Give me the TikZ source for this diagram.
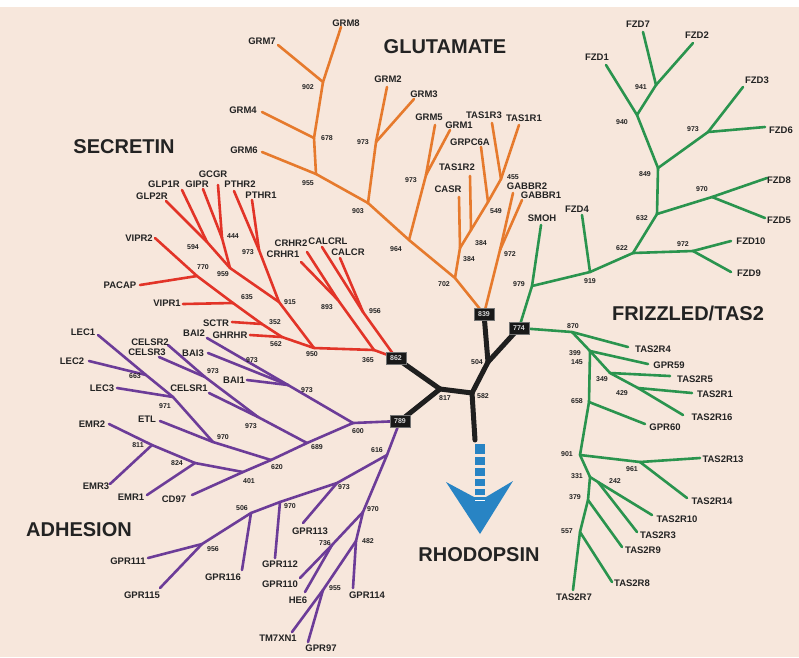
\documentclass[tikz,border=0pt]{standalone}
\usepackage{fontspec}
\setmainfont{Liberation Sans}
\definecolor{bgc}{RGB}{247,231,220}
\definecolor{gluc}{RGB}{230,122,45}
\definecolor{fzdc}{RGB}{42,148,78}
\definecolor{secc}{RGB}{226,52,40}
\definecolor{adhc}{RGB}{108,60,152}
\definecolor{rhoc}{RGB}{40,132,196}
\definecolor{txtc}{RGB}{35,35,35}
\begin{document}
\begin{tikzpicture}[x=1pt,y=-1pt,
  br/.style={line width=2.6pt, line cap=round, line join=round},
  gluline/.style={br, draw=gluc},
  fzdline/.style={br, draw=fzdc},
  secline/.style={br, draw=secc},
  adhline/.style={br, draw=adhc},
  blkline/.style={line width=5pt, draw=black!88, line cap=round, line join=round},
  gene/.style={font=\fontsize{9.5}{10}\selectfont\bfseries, text=txtc, inner sep=0pt},
  num/.style={font=\fontsize{7}{8}\selectfont\bfseries, text=txtc, inner sep=0pt},
  fam/.style={font=\fontsize{20}{22}\selectfont\bfseries, text=txtc, inner sep=0pt},
  bbox/.style={fill=black!90, draw=black!55, line width=0.8pt, minimum width=20pt, minimum height=12pt, inner sep=0pt, text=white!85!black, font=\fontsize{7}{8}\selectfont\bfseries}]
\useasboundingbox (0,0) rectangle (799,657);
\fill[bgc] (0,7) rectangle (799,657);
\fill[white] (0,0) rectangle (799,7);

% ---------------- coordinates: glutamate
\coordinate (lGRM8) at (341,27);
\coordinate (lGRM7) at (278,45);
\coordinate (lGRM4) at (262,112);
\coordinate (lGRM6) at (262,152);
\coordinate (lGRM2) at (387,87);
\coordinate (lGRM3) at (414,99);
\coordinate (lGRM5) at (435,125);
\coordinate (lGRM1) at (450,130);
\coordinate (lTAS1R3) at (492,123);
\coordinate (lTAS1R1) at (519,125);
\coordinate (lGRPC6A) at (481,147);
\coordinate (lTAS1R2) at (470,176);
\coordinate (lCASR) at (459,197);
\coordinate (lGABBR2) at (513,193);
\coordinate (lGABBR1) at (522,200);
\coordinate (g902) at (323,82);
\coordinate (g678) at (314,138);
\coordinate (g955) at (316,174);
\coordinate (g903) at (368,203);
\coordinate (g973a) at (376,142);
\coordinate (g964) at (409,240);
\coordinate (g973b) at (426,175);
\coordinate (g702) at (455,278);
\coordinate (g384a) at (460,248);
\coordinate (g384b) at (471,230);
\coordinate (g549) at (488,202);
\coordinate (g455) at (501,179);
\coordinate (g972) at (500,250);
\coordinate (b839) at (484,314);

% ---------------- coordinates: frizzled
\coordinate (lFZD7) at (643,32);
\coordinate (lFZD2) at (693,43);
\coordinate (lFZD1) at (606,65);
\coordinate (lFZD3) at (743,87);
\coordinate (lFZD6) at (765,127);
\coordinate (lFZD8) at (767,178);
\coordinate (lFZD5) at (765,218);
\coordinate (lFZD10) at (731,241);
\coordinate (lFZD9) at (731,272);
\coordinate (lFZD4) at (582,215);
\coordinate (lSMOH) at (541,225);
\coordinate (f941) at (656,85);
\coordinate (f940) at (637,115);
\coordinate (f849) at (658,168);
\coordinate (f973) at (708,132);
\coordinate (f632) at (657,214);
\coordinate (f970) at (712,197);
\coordinate (f622) at (633,253);
\coordinate (f972) at (693,251);
\coordinate (f919) at (590,272);
\coordinate (f979) at (532,286);
\coordinate (b774) at (519,328);

% ---------------- coordinates: TAS2
\coordinate (t870) at (572,332);
\coordinate (t399) at (590,351);
\coordinate (t349) at (610,373);
\coordinate (t429) at (638,388);
\coordinate (t658) at (589,402);
\coordinate (t901) at (580,455);
\coordinate (t961) at (640,462);
\coordinate (t331) at (590,477);
\coordinate (t242) at (598,482);
\coordinate (t379) at (588,500);
\coordinate (t557) at (580,532);
\coordinate (lTAS2R4) at (628,347);
\coordinate (lGPR59) at (648,364);
\coordinate (lTAS2R5) at (670,376);
\coordinate (lTAS2R1) at (692,393);
\coordinate (lTAS2R16) at (683,415);
\coordinate (lGPR60) at (645,424);
\coordinate (lTAS2R13) at (700,458);
\coordinate (lTAS2R14) at (687,498);
\coordinate (lTAS2R10) at (652,515);
\coordinate (lTAS2R3) at (637,532);
\coordinate (lTAS2R9) at (622,547);
\coordinate (lTAS2R8) at (612,582);
\coordinate (lTAS2R7) at (573,590);

% ---------------- coordinates: secretin
\coordinate (lGLP2R) at (166,201);
\coordinate (lGLP1R) at (182,190);
\coordinate (lGIPR) at (203,189);
\coordinate (lGCGR) at (218,185);
\coordinate (lPTHR2) at (234,191);
\coordinate (lPTHR1) at (252,200);
\coordinate (lVIPR2) at (155,238);
\coordinate (lPACAP) at (140,285);
\coordinate (lVIPR1) at (183,304);
\coordinate (lSCTR) at (232,322);
\coordinate (lGHRHR) at (250,335);
\coordinate (lCRHR2) at (307,252);
\coordinate (lCRHR1) at (301,262);
\coordinate (lCALCRL) at (322,247);
\coordinate (lCALCR) at (340,258);
\coordinate (s594) at (207,242);
\coordinate (s444) at (222,238);
\coordinate (s959) at (230,268);
\coordinate (s973) at (259,250);
\coordinate (s915) at (279,302);
\coordinate (s770) at (197,276);
\coordinate (s635) at (233,303);
\coordinate (s352) at (262,324);
\coordinate (s562) at (282,337);
\coordinate (s950) at (314,348);
\coordinate (s365) at (374,350);
\coordinate (s893) at (338,300);
\coordinate (s956) at (363,312);
\coordinate (b862) at (396,358);

% ---------------- coordinates: adhesion
\coordinate (lLEC1) at (98,335);
\coordinate (lLEC2) at (89,361);
\coordinate (lLEC3) at (117,388);
\coordinate (lEMR2) at (109,424);
\coordinate (lETL) at (160,421);
\coordinate (lCELSR2) at (168,345);
\coordinate (lCELSR3) at (159,357);
\coordinate (lCELSR1) at (209,393);
\coordinate (lBAI2) at (207,338);
\coordinate (lBAI3) at (208,353);
\coordinate (lBAI1) at (247,380);
\coordinate (lEMR3) at (110,484);
\coordinate (lEMR1) at (147,495);
\coordinate (lCD97) at (192,495);
\coordinate (lGPR113) at (303,523);
\coordinate (lGPR111) at (148,558);
\coordinate (lGPR116) at (242,570);
\coordinate (lGPR112) at (275,558);
\coordinate (lGPR110) at (300,578);
\coordinate (lHE6) at (305,592);
\coordinate (lGPR114) at (353,588);
\coordinate (lGPR115) at (160,588);
\coordinate (lTM7XN1) at (292,632);
\coordinate (lGPR97) at (308,642);
\coordinate (a663) at (146,375);
\coordinate (a971) at (173,397);
\coordinate (a970) at (213,442);
\coordinate (a620) at (271,460);
\coordinate (ac23) at (205,377);
\coordinate (ac1) at (258,417);
\coordinate (a689) at (307,443);
\coordinate (ab31) at (288,385);
\coordinate (a600) at (353,423);
\coordinate (a811) at (152,445);
\coordinate (a824) at (195,463);
\coordinate (a401) at (243,472);
\coordinate (a616) at (387,455);
\coordinate (a973) at (337,483);
\coordinate (a970b) at (280,502);
\coordinate (a506) at (251,513);
\coordinate (a956) at (202,544);
\coordinate (a970c) at (363,512);
\coordinate (a736) at (332,545);
\coordinate (a482) at (356,541);
\coordinate (a955) at (323,590);
\coordinate (b789) at (400,421);

% ---------------- core
\coordinate (k817) at (440,389);
\coordinate (k582) at (472,393);
\coordinate (k504) at (488,362);
\coordinate (kstem) at (475,440);

% ================= branches
% glutamate
\draw[gluline] (lGRM8) -- (g902);
\draw[gluline] (lGRM7) -- (g902);
\draw[gluline] (g902) -- (g678);
\draw[gluline] (lGRM4) -- (g678);
\draw[gluline] (g678) -- (g955);
\draw[gluline] (lGRM6) -- (g955);
\draw[gluline] (g955) -- (g903);
\draw[gluline] (lGRM2) -- (g973a);
\draw[gluline] (lGRM3) -- (g973a);
\draw[gluline] (g973a) -- (g903);
\draw[gluline] (g903) -- (g964);
\draw[gluline] (lGRM5) -- (g973b);
\draw[gluline] (lGRM1) -- (g973b);
\draw[gluline] (g973b) -- (g964);
\draw[gluline] (g964) -- (g702);
\draw[gluline] (g702) -- (b839);
\draw[gluline] (lCASR) -- (g384a);
\draw[gluline] (g384a) -- (g702);
\draw[gluline] (lTAS1R2) -- (g384b);
\draw[gluline] (g384b) -- (g384a);
\draw[gluline] (g549) -- (g384b);
\draw[gluline] (lGRPC6A) -- (g549);
\draw[gluline] (g455) -- (g549);
\draw[gluline] (lTAS1R3) -- (g455);
\draw[gluline] (lTAS1R1) -- (g455);
\draw[gluline] (lGABBR2) -- (g972);
\draw[gluline] (lGABBR1) -- (g972);
\draw[gluline] (g972) -- (b839);

% frizzled
\draw[fzdline] (lFZD7) -- (f941);
\draw[fzdline] (lFZD2) -- (f941);
\draw[fzdline] (f941) -- (f940);
\draw[fzdline] (lFZD1) -- (f940);
\draw[fzdline] (f940) -- (f849);
\draw[fzdline] (lFZD3) -- (f973);
\draw[fzdline] (lFZD6) -- (f973);
\draw[fzdline] (f973) -- (f849);
\draw[fzdline] (f849) -- (f632);
\draw[fzdline] (lFZD8) -- (f970);
\draw[fzdline] (lFZD5) -- (f970);
\draw[fzdline] (f970) -- (f632);
\draw[fzdline] (f632) -- (f622);
\draw[fzdline] (lFZD10) -- (f972);
\draw[fzdline] (lFZD9) -- (f972);
\draw[fzdline] (f972) -- (f622);
\draw[fzdline] (f622) -- (f919);
\draw[fzdline] (lFZD4) -- (f919);
\draw[fzdline] (f919) -- (f979);
\draw[fzdline] (lSMOH) -- (f979);
\draw[fzdline] (f979) -- (b774);

% TAS2
\draw[fzdline] (b774) -- (t870);
\draw[fzdline] (t870) -- (lTAS2R4);
\draw[fzdline] (t870) -- (t399);
\draw[fzdline] (t399) -- (lGPR59);
\draw[fzdline] (t399) -- (t349);
\draw[fzdline] (t349) -- (lTAS2R5);
\draw[fzdline] (t349) -- (t429);
\draw[fzdline] (t429) -- (lTAS2R1);
\draw[fzdline] (t429) -- (lTAS2R16);
\draw[fzdline] (t399) -- (t658);
\draw[fzdline] (t658) -- (lGPR60);
\draw[fzdline] (t658) -- (t901);
\draw[fzdline] (t901) -- (t961);
\draw[fzdline] (t961) -- (lTAS2R13);
\draw[fzdline] (t961) -- (lTAS2R14);
\draw[fzdline] (t901) -- (t331);
\draw[fzdline] (t331) -- (t242);
\draw[fzdline] (t242) -- (lTAS2R10);
\draw[fzdline] (t242) -- (lTAS2R3);
\draw[fzdline] (t331) -- (t379);
\draw[fzdline] (t379) -- (lTAS2R9);
\draw[fzdline] (t379) -- (t557);
\draw[fzdline] (t557) -- (lTAS2R8);
\draw[fzdline] (t557) -- (lTAS2R7);

% secretin
\draw[secline] (lGLP2R) -- (s594);
\draw[secline] (lGLP1R) -- (s594);
\draw[secline] (lGIPR) -- (s444);
\draw[secline] (lGCGR) -- (s444);
\draw[secline] (s594) -- (s959);
\draw[secline] (s444) -- (s959);
\draw[secline] (lPTHR2) -- (s973);
\draw[secline] (lPTHR1) -- (s973);
\draw[secline] (s959) -- (s915);
\draw[secline] (s973) -- (s915);
\draw[secline] (s915) -- (s950);
\draw[secline] (lVIPR2) -- (s770);
\draw[secline] (lPACAP) -- (s770);
\draw[secline] (s770) -- (s635);
\draw[secline] (lVIPR1) -- (s635);
\draw[secline] (s635) -- (s352);
\draw[secline] (lSCTR) -- (s352);
\draw[secline] (s352) -- (s562);
\draw[secline] (lGHRHR) -- (s562);
\draw[secline] (s562) -- (s950);
\draw[secline] (s950) -- (s365);
\draw[secline] (lCRHR2) -- (s893);
\draw[secline] (lCRHR1) -- (s893);
\draw[secline] (s893) -- (s365);
\draw[secline] (s365) -- (b862);
\draw[secline] (lCALCRL) -- (s956);
\draw[secline] (lCALCR) -- (s956);
\draw[secline] (s956) -- (b862);

% adhesion
\draw[adhline] (lLEC1) -- (a663);
\draw[adhline] (lLEC2) -- (a663);
\draw[adhline] (a663) -- (a971);
\draw[adhline] (lLEC3) -- (a971);
\draw[adhline] (a971) -- (a970);
\draw[adhline] (lETL) -- (a970);
\draw[adhline] (a970) -- (a620);
\draw[adhline] (lCELSR2) -- (ac23);
\draw[adhline] (lCELSR3) -- (ac23);
\draw[adhline] (ac23) -- (ac1);
\draw[adhline] (lCELSR1) -- (ac1);
\draw[adhline] (ac1) -- (a689);
\draw[adhline] (lBAI2) -- (ab31);
\draw[adhline] (lBAI3) -- (ab31);
\draw[adhline] (lBAI1) -- (ab31);
\draw[adhline] (ab31) -- (a600);
\draw[adhline] (b789) -- (a600);
\draw[adhline] (a600) -- (a689);
\draw[adhline] (a689) -- (a620);
\draw[adhline] (a620) -- (a401);
\draw[adhline] (a401) -- (lCD97);
\draw[adhline] (lEMR2) -- (a811);
\draw[adhline] (lEMR3) -- (a811);
\draw[adhline] (a811) -- (a824);
\draw[adhline] (lEMR1) -- (a824);
\draw[adhline] (a824) -- (a401);
\draw[adhline] (b789) -- (a616);
\draw[adhline] (a616) -- (a973);
\draw[adhline] (a973) -- (lGPR113);
\draw[adhline] (a973) -- (a970b);
\draw[adhline] (a970b) -- (lGPR112);
\draw[adhline] (a970b) -- (a506);
\draw[adhline] (a506) -- (lGPR116);
\draw[adhline] (a506) -- (a956);
\draw[adhline] (a956) -- (lGPR111);
\draw[adhline] (a956) -- (lGPR115);
\draw[adhline] (a616) -- (a970c);
\draw[adhline] (a970c) -- (a736);
\draw[adhline] (a736) -- (lGPR110);
\draw[adhline] (a736) -- (lHE6);
\draw[adhline] (a970c) -- (a482);
\draw[adhline] (a482) -- (lGPR114);
\draw[adhline] (a482) -- (a955);
\draw[adhline] (a955) -- (lTM7XN1);
\draw[adhline] (a955) -- (lGPR97);

% core (black)
\draw[blkline] (b862) -- (k817);
\draw[blkline] (b789) -- (k817);
\draw[blkline] (k817) -- (k582);
\draw[blkline] (k582) -- (k504);
\draw[blkline] (k504) -- (b839);
\draw[blkline] (k504) -- (b774);
\draw[blkline] (k582) -- (kstem);

% rhodopsin arrow
\fill[rhoc] (475,444) rectangle (485,454);
\fill[rhoc] (475,457) rectangle (485,465);
\fill[rhoc] (475,468) rectangle (485,476);
\fill[rhoc] (475,479) rectangle (485,486);
\fill[rhoc] (475,489) rectangle (485,495);
\fill[rhoc] (446,482) -- (474,497) -- (486,497) -- (513,481) -- (480,534) -- cycle;
\draw[white, line width=0.9pt] (475,500) -- (485,500);

% boxes
\node[bbox] (box839) at (b839) {839};
\node[bbox] (box774) at (b774) {774};
\node[bbox] (box862) at (b862) {862};
\node[bbox] (box789) at (b789) {789};

% ================= family names
\node[fam] (nGLU) at (445,47) {GLUTAMATE};
\node[fam] (nSEC) at (124,147) {SECRETIN};
\node[fam] (nFZD) at (688,313) {FRIZZLED/TAS2};
\node[fam] (nADH) at (79,530) {ADHESION};
\node[fam] (nRHO) at (479,555) {RHODOPSIN};

% ================= gene labels
\node[gene] (tGRM8) at (346,23) {GRM8};
\node[gene] (tGRM7) at (262,41) {GRM7};
\node[gene] (tGRM4) at (243,110) {GRM4};
\node[gene] (tGRM6) at (244,150) {GRM6};
\node[gene] (tGRM2) at (388,79) {GRM2};
\node[gene] (tGRM3) at (424,94) {GRM3};
\node[gene] (tGRM5) at (429,117) {GRM5};
\node[gene] (tGRM1) at (459,125) {GRM1};
\node[gene] (tTAS1R3) at (484,115) {TAS1R3};
\node[gene] (tTAS1R1) at (524,118) {TAS1R1};
\node[gene] (tGRPC6A) at (470,142) {GRPC6A};
\node[gene] (tTAS1R2) at (457,167) {TAS1R2};
\node[gene] (tCASR) at (448,189) {CASR};
\node[gene] (tGABBR2) at (527,186) {GABBR2};
\node[gene] (tGABBR1) at (541,195) {GABBR1};
\node[gene] (tSMOH) at (542,218) {SMOH};
\node[gene] (tFZD4) at (577,209) {FZD4};
\node[gene] (tFZD7) at (638,24) {FZD7};
\node[gene] (tFZD2) at (697,35) {FZD2};
\node[gene] (tFZD1) at (597,57) {FZD1};
\node[gene] (tFZD3) at (757,80) {FZD3};
\node[gene] (tFZD6) at (781,130) {FZD6};
\node[gene] (tFZD8) at (779,180) {FZD8};
\node[gene] (tFZD5) at (779,220) {FZD5};
\node[gene] (tFZD10) at (751,241) {FZD10};
\node[gene] (tFZD9) at (749,273) {FZD9};
\node[gene] (tTAS2R4) at (653,349) {TAS2R4};
\node[gene] (tGPR59) at (669,365) {GPR59};
\node[gene] (tTAS2R5) at (695,379) {TAS2R5};
\node[gene] (tTAS2R1) at (715,394) {TAS2R1};
\node[gene] (tTAS2R16) at (712,417) {TAS2R16};
\node[gene] (tGPR60) at (665,427) {GPR60};
\node[gene] (tTAS2R13) at (723,459) {TAS2R13};
\node[gene] (tTAS2R14) at (712,501) {TAS2R14};
\node[gene] (tTAS2R10) at (677,519) {TAS2R10};
\node[gene] (tTAS2R3) at (658,535) {TAS2R3};
\node[gene] (tTAS2R9) at (643,550) {TAS2R9};
\node[gene] (tTAS2R8) at (632,583) {TAS2R8};
\node[gene] (tTAS2R7) at (574,597) {TAS2R7};
\node[gene] (tGLP2R) at (152,196) {GLP2R};
\node[gene] (tGLP1R) at (164,184) {GLP1R};
\node[gene] (tGIPR) at (197,184) {GIPR};
\node[gene] (tGCGR) at (213,174) {GCGR};
\node[gene] (tPTHR2) at (240,184) {PTHR2};
\node[gene] (tPTHR1) at (261,195) {PTHR1};
\node[gene] (tVIPR2) at (139,238) {VIPR2};
\node[gene] (tPACAP) at (120,285) {PACAP};
\node[gene] (tVIPR1) at (167,303) {VIPR1};
\node[gene] (tSCTR) at (216,323) {SCTR};
\node[gene] (tGHRHR) at (230,335) {GHRHR};
\node[gene] (tCRHR2) at (291,243) {CRHR2};
\node[gene] (tCALCRL) at (328,241) {CALCRL};
\node[gene] (tCRHR1) at (283,254) {CRHR1};
\node[gene] (tCALCR) at (348,252) {CALCR};
\node[gene] (tLEC1) at (83,332) {LEC1};
\node[gene] (tLEC2) at (72,361) {LEC2};
\node[gene] (tLEC3) at (102,388) {LEC3};
\node[gene] (tEMR2) at (92,424) {EMR2};
\node[gene] (tETL) at (147,419) {ETL};
\node[gene] (tCELSR2) at (150,342) {CELSR2};
\node[gene] (tCELSR3) at (147,352) {CELSR3};
\node[gene] (tCELSR1) at (189,388) {CELSR1};
\node[gene] (tBAI2) at (194,333) {BAI2};
\node[gene] (tBAI3) at (193,353) {BAI3};
\node[gene] (tBAI1) at (234,380) {BAI1};
\node[gene] (tEMR3) at (96,486) {EMR3};
\node[gene] (tEMR1) at (131,497) {EMR1};
\node[gene] (tCD97) at (174,499) {CD97};
\node[gene] (tGPR113) at (310,531) {GPR113};
\node[gene] (tGPR111) at (128,561) {GPR111};
\node[gene] (tGPR116) at (223,577) {GPR116};
\node[gene] (tGPR112) at (280,564) {GPR112};
\node[gene] (tGPR110) at (280,584) {GPR110};
\node[gene] (tHE6) at (298,600) {HE6};
\node[gene] (tGPR114) at (367,595) {GPR114};
\node[gene] (tGPR115) at (142,595) {GPR115};
\node[gene] (tTM7XN1) at (278,638) {TM7XN1};
\node[gene] (tGPR97) at (321,648) {GPR97};

% ================= bootstrap numbers
\node[num] (n1) at (308,87) {902};
\node[num] (n2) at (327,138) {678};
\node[num] (n3) at (308,183) {955};
\node[num] (n4) at (358,211) {903};
\node[num] (n5) at (363,142) {973};
\node[num] (n6) at (411,180) {973};
\node[num] (n7) at (396,249) {964};
\node[num] (n8) at (444,284) {702};
\node[num] (n9) at (481,243) {384};
\node[num] (n10) at (469,259) {384};
\node[num] (n11) at (496,211) {549};
\node[num] (n12) at (513,177) {455};
\node[num] (n13) at (510,254) {972};
\node[num] (n14) at (641,87) {941};
\node[num] (n15) at (622,122) {940};
\node[num] (n16) at (645,174) {849};
\node[num] (n17) at (693,129) {973};
\node[num] (n18) at (702,189) {970};
\node[num] (n19) at (642,218) {632};
\node[num] (n20) at (622,248) {622};
\node[num] (n21) at (683,244) {972};
\node[num] (n22) at (590,281) {919};
\node[num] (n23) at (519,284) {979};
\node[num] (n24) at (573,326) {870};
\node[num] (n25) at (575,353) {399};
\node[num] (n26) at (577,362) {145};
\node[num] (n27) at (602,379) {349};
\node[num] (n28) at (622,393) {429};
\node[num] (n29) at (577,401) {658};
\node[num] (n30) at (567,454) {901};
\node[num] (n31) at (632,469) {961};
\node[num] (n32) at (577,476) {331};
\node[num] (n33) at (615,481) {242};
\node[num] (n34) at (575,497) {379};
\node[num] (n35) at (567,531) {557};
\node[num] (n36) at (193,247) {594};
\node[num] (n37) at (233,236) {444};
\node[num] (n38) at (203,267) {770};
\node[num] (n39) at (223,274) {959};
\node[num] (n40) at (248,252) {973};
\node[num] (n41) at (247,297) {635};
\node[num] (n42) at (290,302) {915};
\node[num] (n43) at (275,322) {352};
\node[num] (n44) at (276,344) {562};
\node[num] (n45) at (312,354) {950};
\node[num] (n46) at (327,307) {893};
\node[num] (n47) at (375,311) {956};
\node[num] (n48) at (368,360) {365};
\node[num] (n49) at (135,376) {663};
\node[num] (n50) at (165,406) {971};
\node[num] (n51) at (223,437) {970};
\node[num] (n52) at (213,371) {973};
\node[num] (n53) at (251,426) {973};
\node[num] (n54) at (252,360) {973};
\node[num] (n55) at (307,390) {973};
\node[num] (n56) at (317,447) {689};
\node[num] (n57) at (358,431) {600};
\node[num] (n58) at (277,467) {620};
\node[num] (n59) at (138,445) {811};
\node[num] (n60) at (177,463) {824};
\node[num] (n61) at (249,481) {401};
\node[num] (n62) at (377,450) {616};
\node[num] (n63) at (344,487) {973};
\node[num] (n64) at (290,506) {970};
\node[num] (n65) at (242,508) {506};
\node[num] (n66) at (213,549) {956};
\node[num] (n67) at (373,509) {970};
\node[num] (n68) at (325,543) {736};
\node[num] (n69) at (368,541) {482};
\node[num] (n70) at (335,588) {955};
\node[num] (n71) at (477,362) {504};
\node[num] (n72) at (445,398) {817};
\node[num] (n73) at (483,396) {582};
\end{tikzpicture}
\end{document}
